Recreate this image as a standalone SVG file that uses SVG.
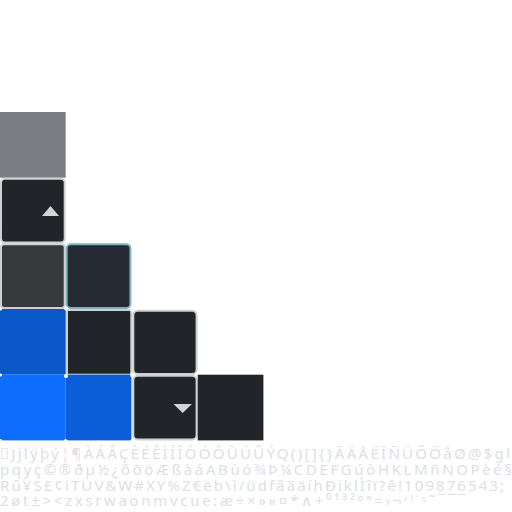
<svg xmlns="http://www.w3.org/2000/svg" width="512" height="512" viewBox="0 0 512 512">
<style>
.bd{stroke:#cfd0d2;stroke-width:2}
.dk{fill:#212529}
.tri{fill:#d3d4d6}
.t{font-family:"Noto Sans","Open Sans","DejaVu Sans",sans-serif;font-size:15px;fill:#dde0e5}
</style>
<rect width="512" height="512" fill="#ffffff"/>
<g id="cell-gray"><rect x="0" y="112" width="65.7" height="65.7" fill="#797d81"/></g>
<g id="cell-up"><rect x="1" y="178.7" width="63.7" height="63.7" rx="4" class="dk bd"/><polygon class="tri" points="42,216 59,216 50.5,206"/></g>
<g id="cell-r3c1"><rect x="1" y="244.3" width="63.7" height="63.7" rx="3" fill="#373a3d" class="bd"/></g>
<g id="cell-r3c2"><rect x="66.7" y="244.3" width="63.7" height="63.7" rx="4" fill="#262b33" stroke="#7fb2be" stroke-width="2"/></g>
<g id="cell-r4c1"><rect x="0" y="309" width="65.7" height="65.7" fill="#0a57ca"/></g>
<g id="cell-r4c2"><rect x="67" y="310" width="64.3" height="64.7" class="dk bd"/></g>
<g id="cell-r4c3"><rect x="133.3" y="310.7" width="63.3" height="63.3" rx="4.5" class="dk bd"/></g>
<g id="cell-r5c1"><rect x="0" y="374.7" width="65.7" height="65.7" fill="#0d6efd"/></g>
<g id="cell-r5c2"><rect x="65.7" y="374.7" width="65.7" height="65.7" fill="#0b5ed7"/></g>
<g id="cell-down"><rect x="133.3" y="375.7" width="63.3" height="63.7" rx="4.5" class="dk bd"/><polygon class="tri" points="173.5,404 192,404 182.7,413"/></g>
<g id="cell-r5c4"><rect x="197.7" y="374.7" width="65.7" height="65.7" fill="#212529"/></g>
<g id="dots" fill="#ffffff">
<circle cx="0.5" cy="243.5" r="1.5"/><circle cx="0.5" cy="309" r="1.5"/><circle cx="66" cy="308.5" r="2"/><circle cx="132.3" cy="310" r="2"/>
<circle cx="0.5" cy="375" r="1.5"/><circle cx="66" cy="376" r="2"/><circle cx="132.3" cy="375" r="2.2"/>
<circle cx="0.5" cy="440.5" r="1.5"/><circle cx="65.7" cy="440.5" r="1.5"/><circle cx="132" cy="440.5" r="1.5"/>
</g>
<g id="glyphs" class="t">
<text x="0" y="459" textLength="510" lengthAdjust="spacing">&#xE000;Jjlÿþý¦¶ÀÁÂÇÈÉÊÌÍÎÒÓÔÙÚÛÝQ()[]{}ÃÄÅËÏÑÜÕÖåØ@$gl</text>
<text x="0" y="475" textLength="512" lengthAdjust="spacing">pqyç©®ðµ½¿ôõöÆßàáABùó¾Þ¼CDEFGúòHKLMñNOPèé§</text>
<text x="0" y="490.5" textLength="504" lengthAdjust="spacing">Rû¥S£¢iTUV&amp;W#XY%Z€ëb\ì/üdfâãäíhĐiklÌîï?ê!109876543;</text>
<text x="0" y="506" textLength="466" lengthAdjust="spacing">2øt±&gt;&lt;zxsrwaonmvcue:æ÷×»«¤*∧+⁰¹³²ºª=›¬ʳˡ˙ˢ˜¯¯¯</text>
</g>
</svg>
